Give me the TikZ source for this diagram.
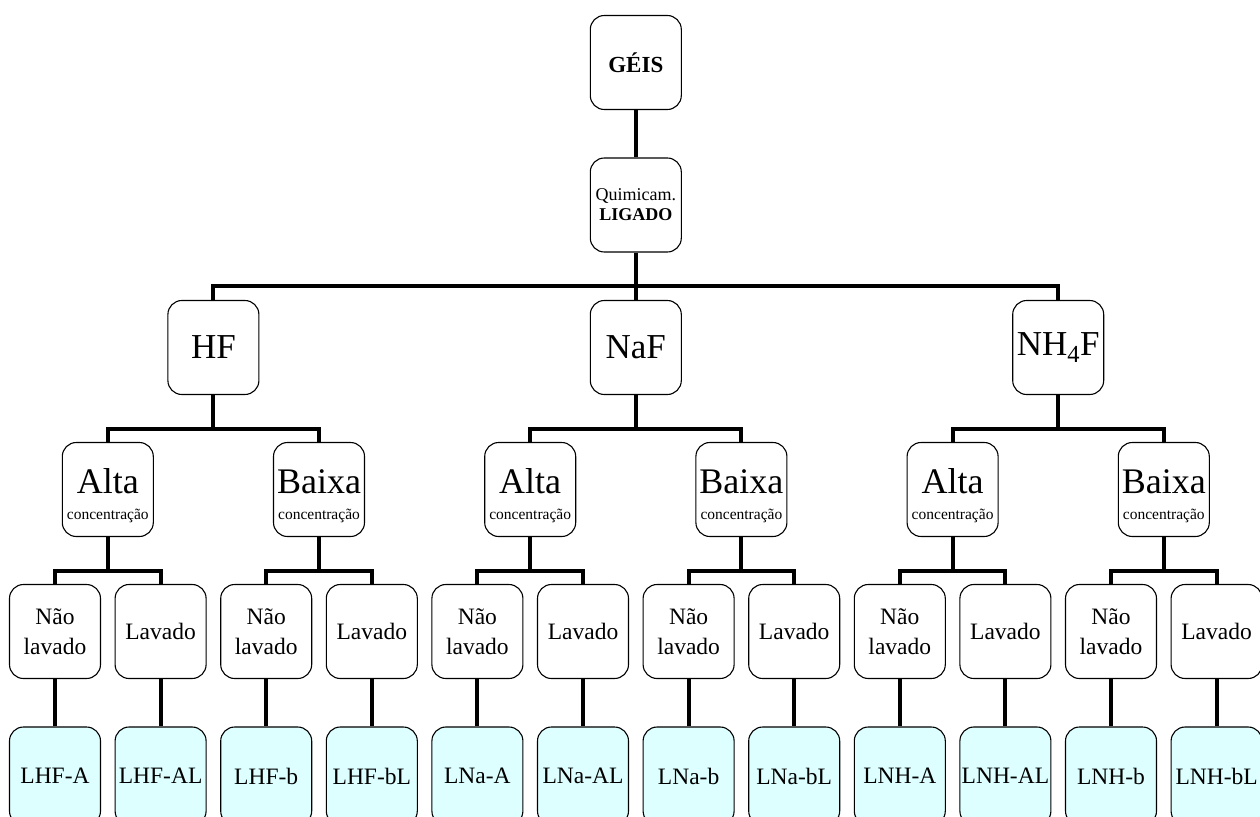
\documentclass[tikz,border=0pt]{standalone}
\usepackage{fontspec}
\setmainfont{Liberation Serif}
\usetikzlibrary{calc}
\definecolor{leaf}{RGB}{221,255,255}
\newcommand{\conc}{\\{\fontsize{15.5}{26}\selectfont concentração}}
\begin{document}
\begin{tikzpicture}[x=1pt,y=-1pt,
  box/.style={draw, fill=white, line width=1.1pt, rounded corners=14pt,
    minimum width=91pt, minimum height=94pt, inner sep=0pt, align=center},
  topbox/.style={box, font=\fontsize{23}{26}\selectfont\bfseries},
  chembox/.style={box, font=\fontsize{18}{20}\selectfont},
  agentbox/.style={box, font=\fontsize{35}{38}\selectfont},
  concbox/.style={box, font=\fontsize{36}{26}\selectfont},
  washbox/.style={box, font=\fontsize{23.5}{30}\selectfont},
  leafbox/.style={box, fill=leaf, font=\fontsize{23.5}{26}\selectfont,
    minimum height=98pt},
  conn/.style={line width=4pt}]
\useasboundingbox (0,0) rectangle (1260,816);

% level 0 and 1
\node[topbox] (g) at (635.8,62.5) {GÉIS};
\node[chembox] (q) at (635.8,205) {Quimicam.\\\textbf{LIGADO}};

% level 2
\node[agentbox] (hf) at (213.4,347.5) {HF};
\node[agentbox] (na) at (635.8,347.5) {NaF};
\node[agentbox] (nh) at (1058.2,347.5) {NH\textsubscript{4}F};

% level 3
\node[concbox] (c1) at (107.8,489.5) {\rule{0pt}{37pt}Alta\conc};
\node[concbox] (c2) at (319.0,489.5) {\rule{0pt}{37pt}Baixa\conc};
\node[concbox] (c3) at (530.2,489.5) {\rule{0pt}{37pt}Alta\conc};
\node[concbox] (c4) at (741.4,489.5) {\rule{0pt}{37pt}Baixa\conc};
\node[concbox] (c5) at (952.6,489.5) {\rule{0pt}{37pt}Alta\conc};
\node[concbox] (c6) at (1163.8,489.5) {\rule{0pt}{37pt}Baixa\conc};

% level 4
\node[washbox] (w1) at (55.0,631.5) {Não\\lavado};
\node[washbox] (w2) at (160.6,631.5) {Lavado};
\node[washbox] (w3) at (266.2,631.5) {Não\\lavado};
\node[washbox] (w4) at (371.8,631.5) {Lavado};
\node[washbox] (w5) at (477.4,631.5) {Não\\lavado};
\node[washbox] (w6) at (583.0,631.5) {Lavado};
\node[washbox] (w7) at (688.6,631.5) {Não\\lavado};
\node[washbox] (w8) at (794.2,631.5) {Lavado};
\node[washbox] (w9) at (899.8,631.5) {Não\\lavado};
\node[washbox] (w10) at (1005.4,631.5) {Lavado};
\node[washbox] (w11) at (1111.0,631.5) {Não\\lavado};
\node[washbox] (w12) at (1216.6,631.5) {Lavado};

% level 5
\node[leafbox] (l1) at (55.0,776) {LHF-A};
\node[leafbox] (l2) at (160.6,776) {LHF-AL};
\node[leafbox] (l3) at (266.2,776) {LHF-b};
\node[leafbox] (l4) at (371.8,776) {LHF-bL};
\node[leafbox] (l5) at (477.4,776) {LNa-A};
\node[leafbox] (l6) at (583.0,776) {LNa-AL};
\node[leafbox] (l7) at (688.6,776) {LNa-b};
\node[leafbox] (l8) at (794.2,776) {LNa-bL};
\node[leafbox] (l9) at (899.8,776) {LNH-A};
\node[leafbox] (l10) at (1005.4,776) {LNH-AL};
\node[leafbox] (l11) at (1111.0,776) {LNH-b};
\node[leafbox] (l12) at (1216.6,776) {LNH-bL};

% connectors
\draw[conn] (g) -- (q);
\draw[conn] (q) -- (na);
\draw[conn] (hf.north) -- ++(0,-14) -| (nh.north);

\draw[conn] (hf) -- ([yshift=13pt]hf.south |- c1.north);
\draw[conn] (c1.north) -- ++(0,-13) -| (c2.north);
\draw[conn] (na) -- ([yshift=13pt]na.south |- c3.north);
\draw[conn] (c3.north) -- ++(0,-13) -| (c4.north);
\draw[conn] (nh) -- ([yshift=13pt]nh.south |- c5.north);
\draw[conn] (c5.north) -- ++(0,-13) -| (c6.north);

\foreach \c/\a/\b in {c1/w1/w2, c2/w3/w4, c3/w5/w6, c4/w7/w8, c5/w9/w10, c6/w11/w12}{
  \draw[conn] (\c) -- ([yshift=13pt]\c.south |- \a.north);
  \draw[conn] (\a.north) -- ++(0,-13) -| (\b.north);
}
\foreach \i in {1,...,12}{
  \draw[conn] (w\i) -- (l\i);
}
\end{tikzpicture}
\end{document}
